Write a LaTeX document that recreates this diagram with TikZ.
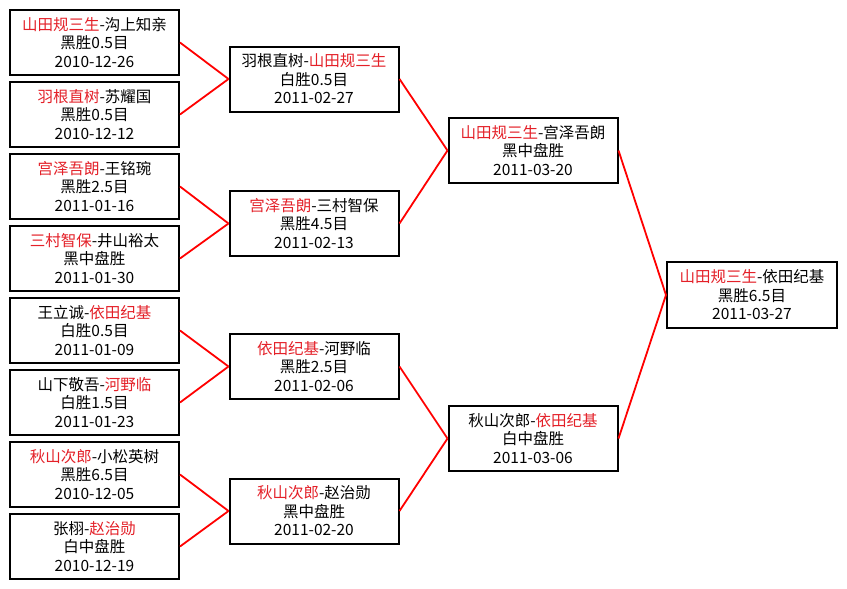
\documentclass[tikz,border=0pt]{standalone}
\usepackage{fontspec}
\setmainfont{Noto Sans CJK SC}
\usepackage{xcolor}
\usepackage{tikz}
\usetikzlibrary{positioning}

\definecolor{winred}{RGB}{228,32,40}

\begin{document}
\begin{tikzpicture}[
    x=1pt, y=-1pt,
    game/.style={draw=black, line width=2pt, fill=white, align=center, inner sep=0pt,
        minimum width=169pt, minimum height=65pt, font=\fontsize{15.5}{18.5}\selectfont},
    link/.style={draw=red, line width=1.8pt}
]

\useasboundingbox[fill=white] (0,0) rectangle (847,589);

% first round
\node[game] (m1) at (94.5,42.5)  {\textcolor{winred}{山田规三生}-沟上知亲\\黑胜0.5目\\2010-12-26};
\node[game] (m2) at (94.5,114.5) {\textcolor{winred}{羽根直树}-苏耀国\\黑胜0.5目\\2010-12-12};
\node[game] (m3) at (94.5,186.5) {\textcolor{winred}{宫泽吾朗}-王铭琬\\黑胜2.5目\\2011-01-16};
\node[game] (m4) at (94.5,258.5) {\textcolor{winred}{三村智保}-井山裕太\\黑中盘胜\\2011-01-30};
\node[game] (m5) at (94.5,330.5) {王立诚-\textcolor{winred}{依田纪基}\\白胜0.5目\\2011-01-09};
\node[game] (m6) at (94.5,402.5) {山下敬吾-\textcolor{winred}{河野临}\\白胜1.5目\\2011-01-23};
\node[game] (m7) at (94.5,474.5) {\textcolor{winred}{秋山次郎}-小松英树\\黑胜6.5目\\2010-12-05};
\node[game] (m8) at (94.5,546.5) {张栩-\textcolor{winred}{赵治勋}\\白中盘胜\\2010-12-19};

% quarter finals
\node[game] (q1) at (314,79)    {羽根直树-\textcolor{winred}{山田规三生}\\白胜0.5目\\2011-02-27};
\node[game] (q2) at (314,223.5) {\textcolor{winred}{宫泽吾朗}-三村智保\\黑胜4.5目\\2011-02-13};
\node[game] (q3) at (314,366.5) {\textcolor{winred}{依田纪基}-河野临\\黑胜2.5目\\2011-02-06};
\node[game] (q4) at (314,511)   {\textcolor{winred}{秋山次郎}-赵治勋\\黑中盘胜\\2011-02-20};

% semi finals
\node[game] (s1) at (533,150.5) {\textcolor{winred}{山田规三生}-宫泽吾朗\\黑中盘胜\\2011-03-20};
\node[game] (s2) at (533,438.5) {秋山次郎-\textcolor{winred}{依田纪基}\\白中盘胜\\2011-03-06};

% final
\node[game, minimum width=170pt, minimum height=66pt] (f) at (752,295) {\textcolor{winred}{山田规三生}-依田纪基\\黑胜6.5目\\2011-03-27};

\draw[link] (m1.east) -- (q1.west);
\draw[link] (m2.east) -- (q1.west);
\draw[link] (m3.east) -- (q2.west);
\draw[link] (m4.east) -- (q2.west);
\draw[link] (m5.east) -- (q3.west);
\draw[link] (m6.east) -- (q3.west);
\draw[link] (m7.east) -- (q4.west);
\draw[link] (m8.east) -- (q4.west);

\draw[link] (q1.east) -- (s1.west);
\draw[link] (q2.east) -- (s1.west);
\draw[link] (q3.east) -- (s2.west);
\draw[link] (q4.east) -- (s2.west);

\draw[link] (s1.east) -- (f.west);
\draw[link] (s2.east) -- (f.west);

\end{tikzpicture}
\end{document}
